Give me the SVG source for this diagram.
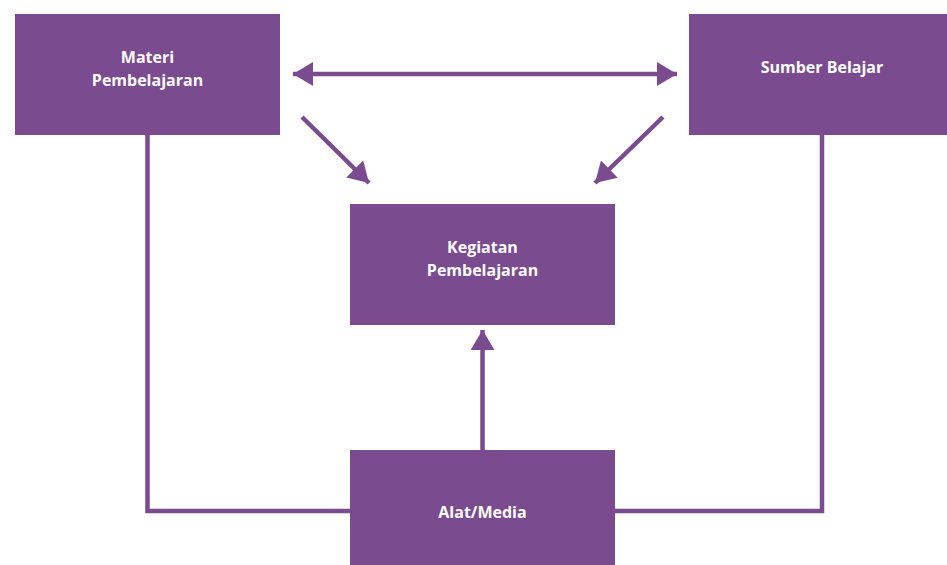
<svg xmlns="http://www.w3.org/2000/svg" width="947" height="565" viewBox="0 0 947 565">
  <style>
    .box { fill: #7a4b8e; }
    .label { fill: #ffffff; font-family: "Open Sans", "Liberation Sans", sans-serif; font-weight: bold; font-size: 16px; text-anchor: middle; }
    .line { fill: none; stroke: #7a4b8e; stroke-width: 4.5; }
    .head { fill: #7a4b8e; }
  </style>
  <defs>
    <marker id="arrow" viewBox="0 0 20 24" refX="20" refY="12" markerWidth="20" markerHeight="24" markerUnits="userSpaceOnUse" orient="auto-start-reverse">
      <path class="head" d="M0,0 L20,12 L0,24 Z"/>
    </marker>
  </defs>
  <rect width="947" height="565" fill="#ffffff"/>

  <!-- connectors -->
  <g id="connectors">
    <line class="line" x1="293" y1="74" x2="677" y2="74" marker-start="url(#arrow)" marker-end="url(#arrow)"/>
    <line class="line" x1="302" y1="117" x2="369" y2="183" marker-end="url(#arrow)"/>
    <line class="line" x1="663" y1="117" x2="595" y2="183" marker-end="url(#arrow)"/>
    <line class="line" x1="482.5" y1="450" x2="482.5" y2="330" marker-end="url(#arrow)"/>
    <polyline class="line" points="147.5,135 147.5,511 350,511"/>
    <polyline class="line" points="822,135 822,511 615,511"/>
  </g>

  <g id="materi">
    <rect class="box" x="15" y="14" width="265" height="121"/>
    <text class="label" x="147.5" y="63">Materi</text>
    <text class="label" x="147.5" y="86">Pembelajaran</text>
  </g>

  <g id="sumber">
    <rect class="box" x="689" y="14" width="266" height="121"/>
    <text class="label" x="822" y="73">Sumber Belajar</text>
  </g>

  <g id="kegiatan">
    <rect class="box" x="350" y="204" width="265" height="121"/>
    <text class="label" x="482.5" y="253">Kegiatan</text>
    <text class="label" x="482.5" y="276">Pembelajaran</text>
  </g>

  <g id="alat">
    <rect class="box" x="350" y="450" width="265" height="115"/>
    <text class="label" x="482.5" y="518">Alat/Media</text>
  </g>
</svg>
